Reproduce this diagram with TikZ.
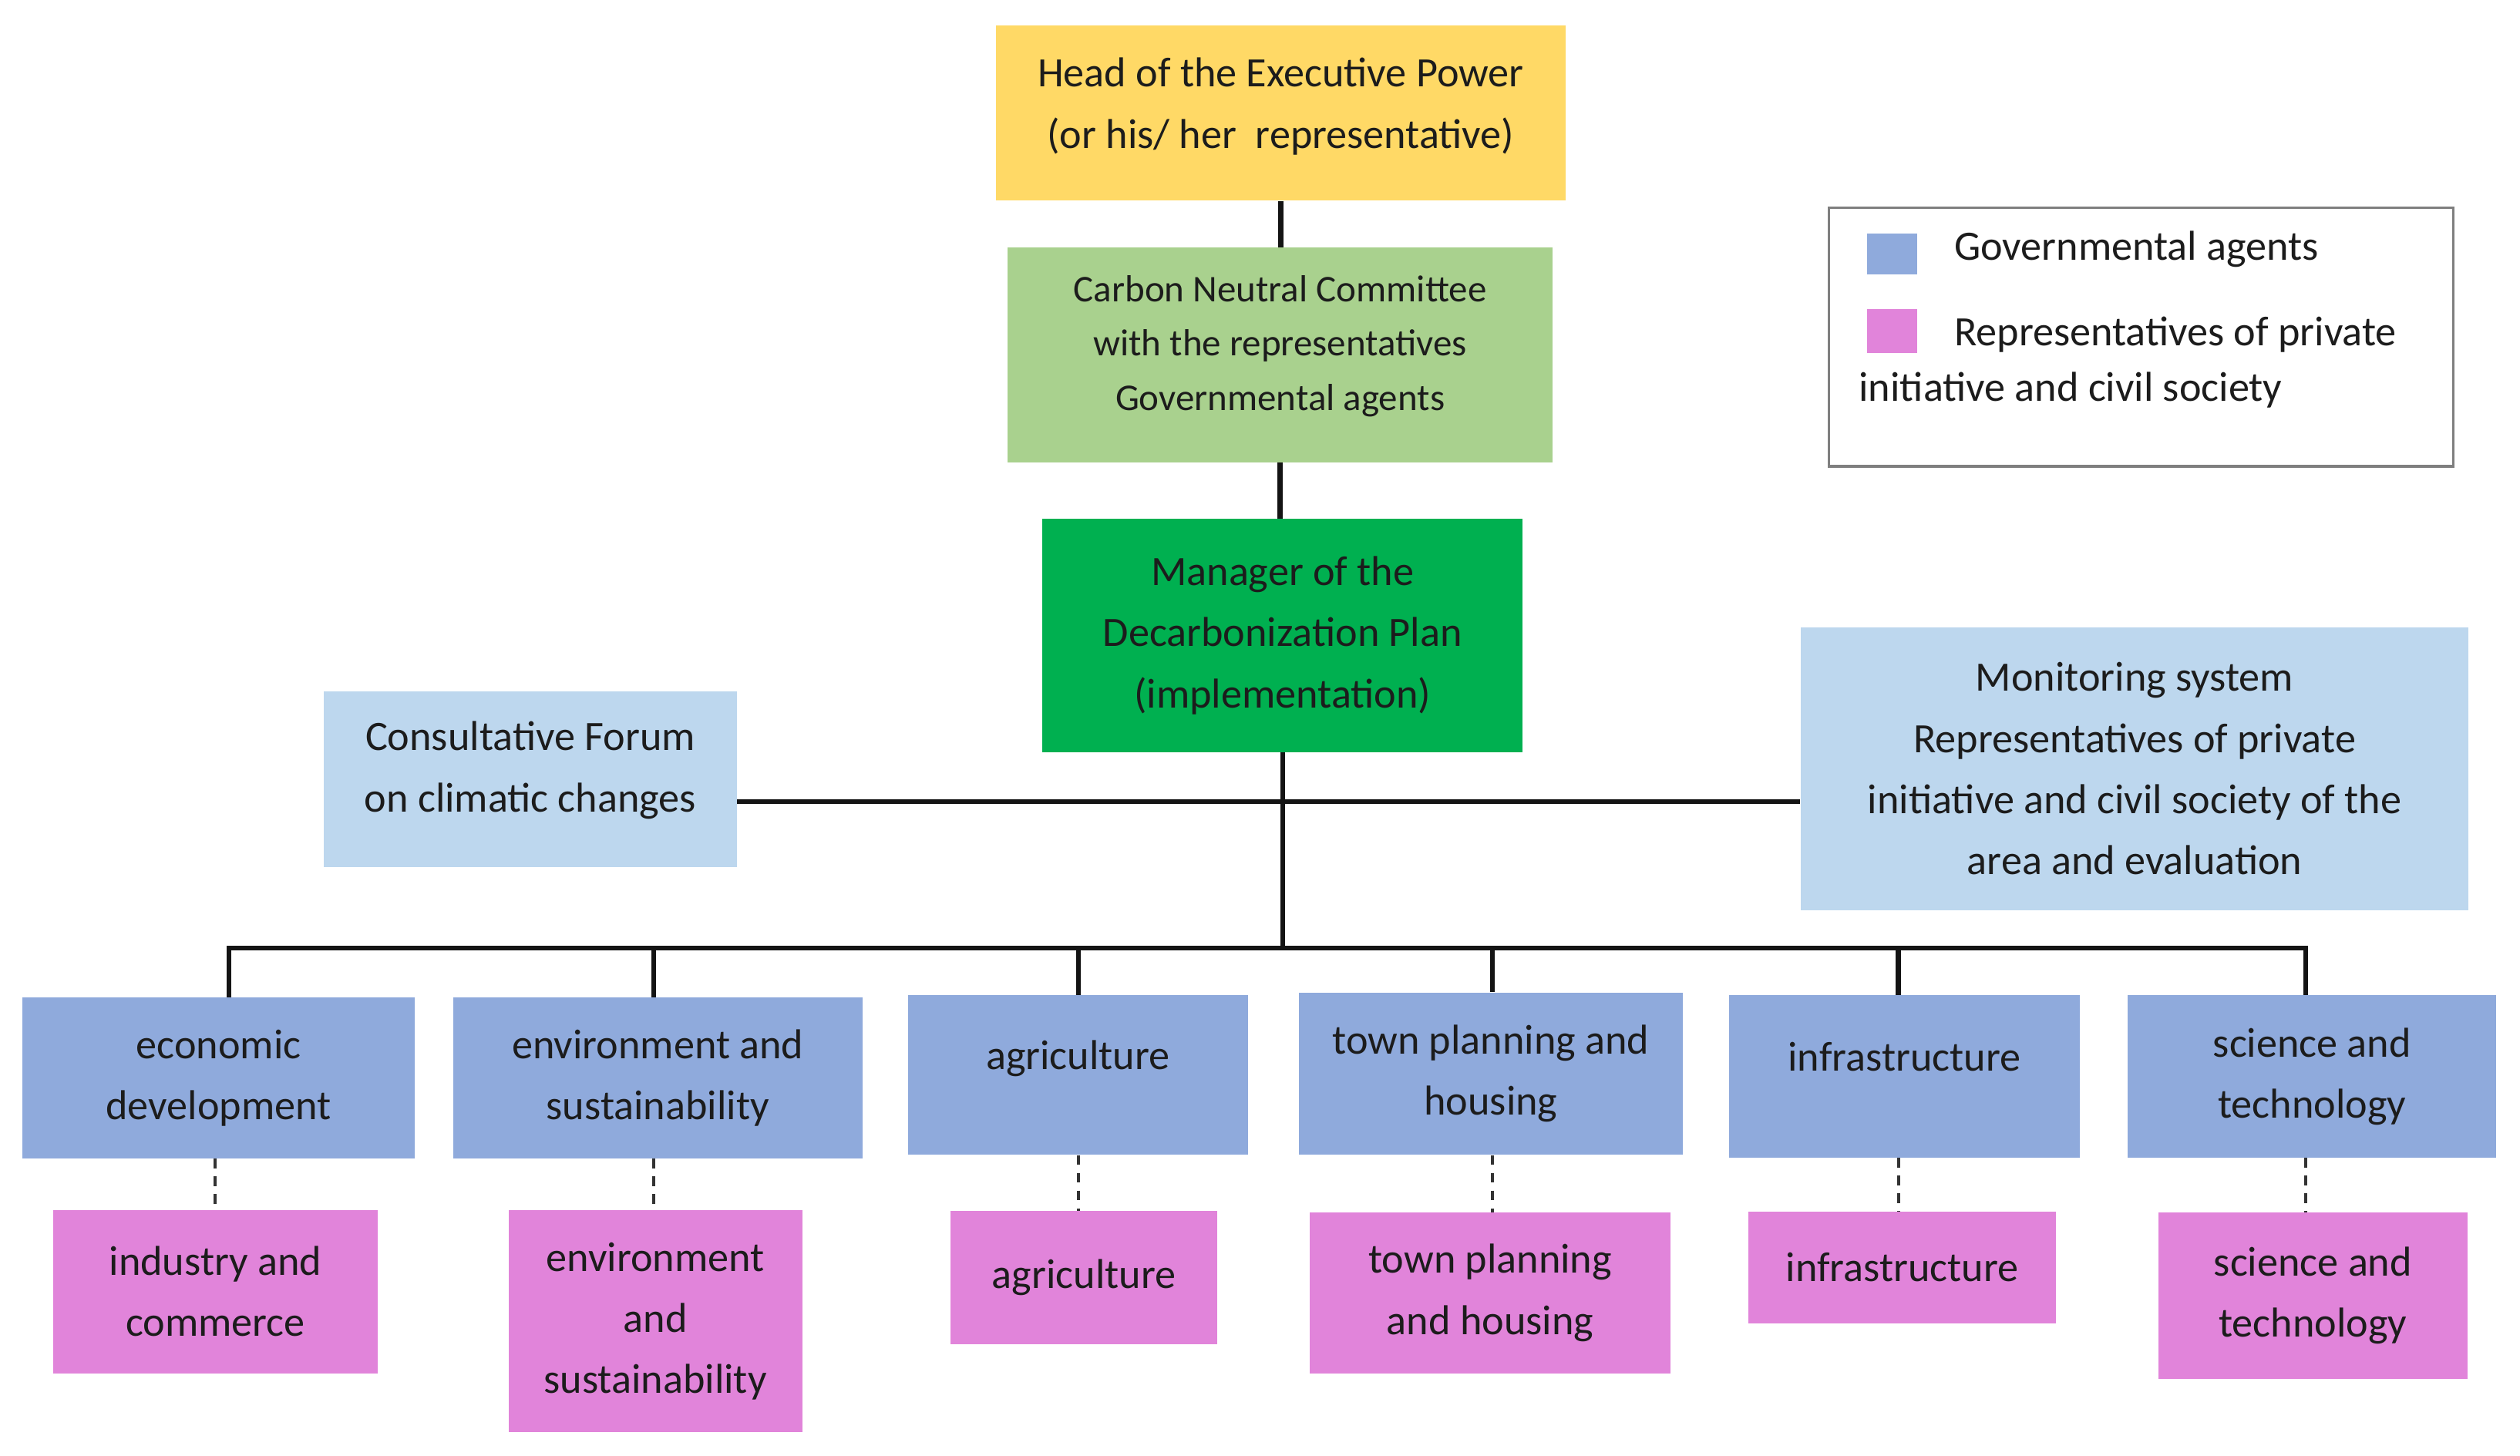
\documentclass[tikz,border=0pt]{standalone}
\usepackage{fontspec}
\setmainfont{Carlito}
\definecolor{headc}{HTML}{FFD966}
\definecolor{cncc}{HTML}{A9D18E}
\definecolor{mgrc}{HTML}{00B050}
\definecolor{lblue}{HTML}{BDD7EE}
\definecolor{gblue}{HTML}{8FAADC}
\definecolor{pinkc}{HTML}{E184DA}
\definecolor{txt}{HTML}{1C1C1C}
\definecolor{legframe}{HTML}{7F7F7F}
\begin{document}
\begin{tikzpicture}[x=1pt,y=-1pt,
  box/.style={draw=none, inner sep=0pt, align=center, text=txt,
    font=\fontsize{26}{38}\selectfont},
  hightext/.style={text depth=25pt},
  legtext/.style={inner sep=0pt, text=txt, font=\fontsize{26}{34}\selectfont},
  conn/.style={line width=3pt, draw=black!92, line join=miter},
  dconn/.style={line width=2pt, draw=black!80, dash pattern=on 6pt off 5pt}]
\useasboundingbox (0,0) rectangle (1568,905.6);
% top chain
\node[box, fill=headc, text depth=12.5pt, minimum width=354.6pt, minimum height=108.9pt] (head) at (796.9,70.35)
  {Head of the Executive Power\\(or his/ her~ representative)};
\node[box, fill=cncc, text depth=15pt, minimum width=339pt, minimum height=133.8pt,
  font=\fontsize{23.5}{34}\selectfont] (cnc) at (796.5,220.9)
  {Carbon Neutral Committee\\with the representatives\\Governmental agents};
\node[box, fill=mgrc, minimum width=298.7pt, minimum height=145.3pt] (mgr) at (798,395.45)
  {Manager of the\\Decarbonization Plan\\(implementation)};
\node[box, fill=lblue, text depth=15.5pt, minimum width=257pt, minimum height=109.5pt] (consult) at (330,484.85)
  {Consultative Forum\\on climatic changes};
\node[box, fill=lblue, minimum width=415.6pt, minimum height=176pt] (monitor) at (1328.2,478.3)
  {Monitoring system\\Representatives of private\\initiative and civil society of the\\area and evaluation};
% legend
\node[draw=legframe, line width=1.6pt, fill=white, inner sep=0pt,
  minimum width=388.6pt, minimum height=160.9pt] (legend) at (1332.2,209.75) {};
\node[fill=gblue, inner sep=0pt, minimum width=31.4pt, minimum height=25.1pt] (sqA) at (1177.3,158) {};
\node[fill=pinkc, inner sep=0pt, minimum width=31.4pt, minimum height=27.6pt] (sqB) at (1177.3,206.1) {};
\node[legtext, anchor=west] (lgA) at (1215.8,155) {Governmental agents};
\node[legtext, anchor=west] (lgB) at (1215.8,208.2) {Representatives of private};
\node[legtext, anchor=west] (lgC) at (1156.5,242.5) {initiative and civil society};
% governmental boxes
\node[box, fill=gblue, minimum width=244.2pt, minimum height=100pt] (econ) at (136,670.8)
  {economic\\development};
\node[box, fill=gblue, minimum width=254.8pt, minimum height=100pt] (envb) at (409.3,670.8)
  {environment and\\sustainability};
\node[box, fill=gblue, hightext, minimum width=211.4pt, minimum height=99.3pt] (agrib) at (670.7,669)
  {agriculture};
\node[box, fill=gblue, minimum width=238.5pt, minimum height=101pt] (townb) at (927.65,668.2)
  {town planning and\\housing};
\node[box, fill=gblue, hightext, minimum width=218.1pt, minimum height=101pt] (infrab) at (1184.95,669.9)
  {infrastructure};
\node[box, fill=gblue, minimum width=229.3pt, minimum height=101pt] (scib) at (1438.65,669.9)
  {science and\\technology};
% private boxes
\node[box, fill=pinkc, minimum width=202pt, minimum height=101.5pt] (indp) at (134,803.75)
  {industry and\\commerce};
\node[box, fill=pinkc, minimum width=182.8pt, minimum height=138.3pt] (envp) at (407.8,822.15)
  {environment\\and\\sustainability};
\node[box, fill=pinkc, minimum width=166.2pt, minimum height=83.1pt] (agrip) at (674.4,795.05)
  {agriculture};
\node[box, fill=pinkc, minimum width=224.3pt, minimum height=100pt] (townp) at (927.25,804.5)
  {town planning\\and housing};
\node[box, fill=pinkc, minimum width=191.3pt, minimum height=69.6pt] (infrap) at (1183.65,788.8)
  {infrastructure};
\node[box, fill=pinkc, minimum width=192.3pt, minimum height=103.6pt] (scip) at (1439.15,806.3)
  {science and\\technology};
% coordinates of the bus
\coordinate (s1) at (142.4,590);
\coordinate (s2) at (406.7,590);
\coordinate (s3) at (671,590);
\coordinate (s4) at (928.5,590);
\coordinate (s5) at (1181.2,590);
\coordinate (s6) at (1434.6,590);
\coordinate (hl) at (798,498.9);
% connectors
\draw[conn] (head.south) -- (head.south |- cnc.north);
\draw[conn] (cnc.south) -- (cnc.south |- mgr.north);
\draw[conn] (mgr.south) -- (mgr.south |- s1);
\draw[conn] (consult.east |- hl) -- (monitor.west |- hl);
\draw[conn] (econ.north -| s1) -- (s1) -- (s6) -- (scib.north -| s6);
\draw[conn] (s2) -- (envb.north -| s2);
\draw[conn] (s3) -- (agrib.north -| s3);
\draw[conn] (s4) -- (townb.north -| s4);
\draw[conn] (s5) -- (infrab.north -| s5);
% dashed links
\draw[dconn] (econ.south -| indp.north) -- (indp.north);
\draw[dconn] (envb.south -| s2) -- (envp.north -| s2);
\draw[dconn] (agrib.south -| s3) -- (agrip.north -| s3);
\draw[dconn] (townb.south -| s4) -- (townp.north -| s4);
\draw[dconn] (infrab.south -| s5) -- (infrap.north -| s5);
\draw[dconn] (scib.south -| s6) -- (scip.north -| s6);
\end{tikzpicture}
\end{document}
